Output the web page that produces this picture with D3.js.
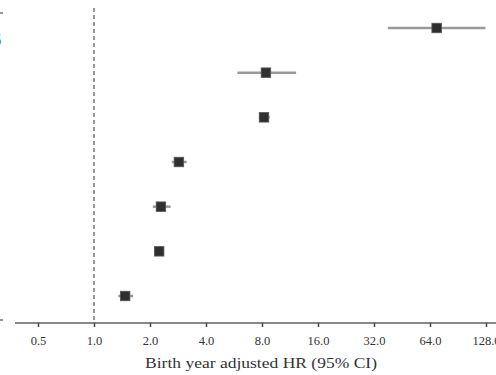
<!DOCTYPE html>
<html>
<head>
<meta charset="utf-8">
<script src="https://cdn.jsdelivr.net/npm/d3@7"></script>
<style>
  html, body { margin: 0; padding: 0; background: #fff; }
  svg { display: block; }
  text { font-family: "Liberation Serif", "DejaVu Serif", serif; fill: #333; }
</style>
</head>
<body>
<svg id="chart" width="496" height="375"></svg>
<script>
// rows top to bottom, hazard ratio with 95% CI
const rows = ["r1", "r2", "r3", "r4", "r5", "r6", "r7"];
const hr = [69.5, 8.4, 8.2, 2.86, 2.29, 2.24, 1.47];
const ciLow = [38, 5.9, 7.7, 2.62, 2.07, 2.12, 1.35];
const ciHigh = [127, 12.2, 8.8, 3.15, 2.58, 2.37, 1.62];
const xTicks = [0.5, 1, 2, 4, 8, 16, 32, 64, 128];

const svg = d3.select("#chart");

const x = d3.scaleLog().base(2)
    .domain([0.5, 128])
    .range([38, 486]);
const y = d3.scalePoint()
    .domain(rows)
    .range([28, 296]);

const axisY = 323;

// panel letter, mostly cut off at the left edge
svg.append("text")
    .attr("x", 2).attr("y", 46)
    .attr("text-anchor", "end")
    .style("font-family", "Liberation Sans, Arial, sans-serif")
    .style("font-weight", "bold")
    .style("font-size", "22px")
    .style("fill", "#4a9ae0")
    .text("B");

// stray left tick marks
svg.selectAll(".ltick")
    .data([13, 320])
    .join("line")
    .attr("x1", 0).attr("x2", 3)
    .attr("y1", d => d).attr("y2", d => d)
    .attr("stroke", "#777").attr("stroke-width", 1.5);

// reference line at HR = 1
svg.append("line")
    .attr("x1", x(1)).attr("x2", x(1))
    .attr("y1", 8).attr("y2", axisY)
    .attr("stroke", "#555")
    .attr("stroke-width", 1.2)
    .attr("stroke-dasharray", "4,3");

// x axis
svg.append("line")
    .attr("x1", 15).attr("x2", 496)
    .attr("y1", axisY).attr("y2", axisY)
    .attr("stroke", "#888").attr("stroke-width", 2);

const gx = svg.append("g")
    .attr("transform", `translate(0,${axisY})`)
    .call(d3.axisBottom(x)
        .tickValues(xTicks)
        .tickFormat(d3.format(".1f"))
        .tickSize(4)
        .tickPadding(9));
gx.select(".domain").remove();
gx.selectAll(".tick line").attr("stroke", "#444").attr("stroke-width", 1.5);
gx.selectAll(".tick text")
    .style("font-family", "Liberation Serif, serif")
    .style("font-size", "12.5px")
    .style("fill", "#333");

svg.append("text")
    .attr("x", 261).attr("y", 368)
    .attr("text-anchor", "middle")
    .attr("textLength", 232)
    .attr("lengthAdjust", "spacingAndGlyphs")
    .style("font-size", "15.5px")
    .text("Birth year adjusted HR (95% CI)");

// CI bars
svg.selectAll(".ci")
    .data(rows)
    .join("line")
    .attr("class", "ci")
    .attr("x1", (d, i) => x(ciLow[i]))
    .attr("x2", (d, i) => x(ciHigh[i]))
    .attr("y1", d => y(d))
    .attr("y2", d => y(d))
    .attr("stroke", "#9a9a9a")
    .attr("stroke-width", 2.5);

// point estimates
const s = 9.5;
svg.selectAll(".pt")
    .data(rows)
    .join("rect")
    .attr("class", "pt")
    .attr("x", (d, i) => x(hr[i]) - s / 2)
    .attr("y", d => y(d) - s / 2)
    .attr("width", s)
    .attr("height", s)
    .attr("fill", "#2f2f2f")
    .attr("stroke", "#555")
    .attr("stroke-width", 0.8);
</script>
</body>
</html>
